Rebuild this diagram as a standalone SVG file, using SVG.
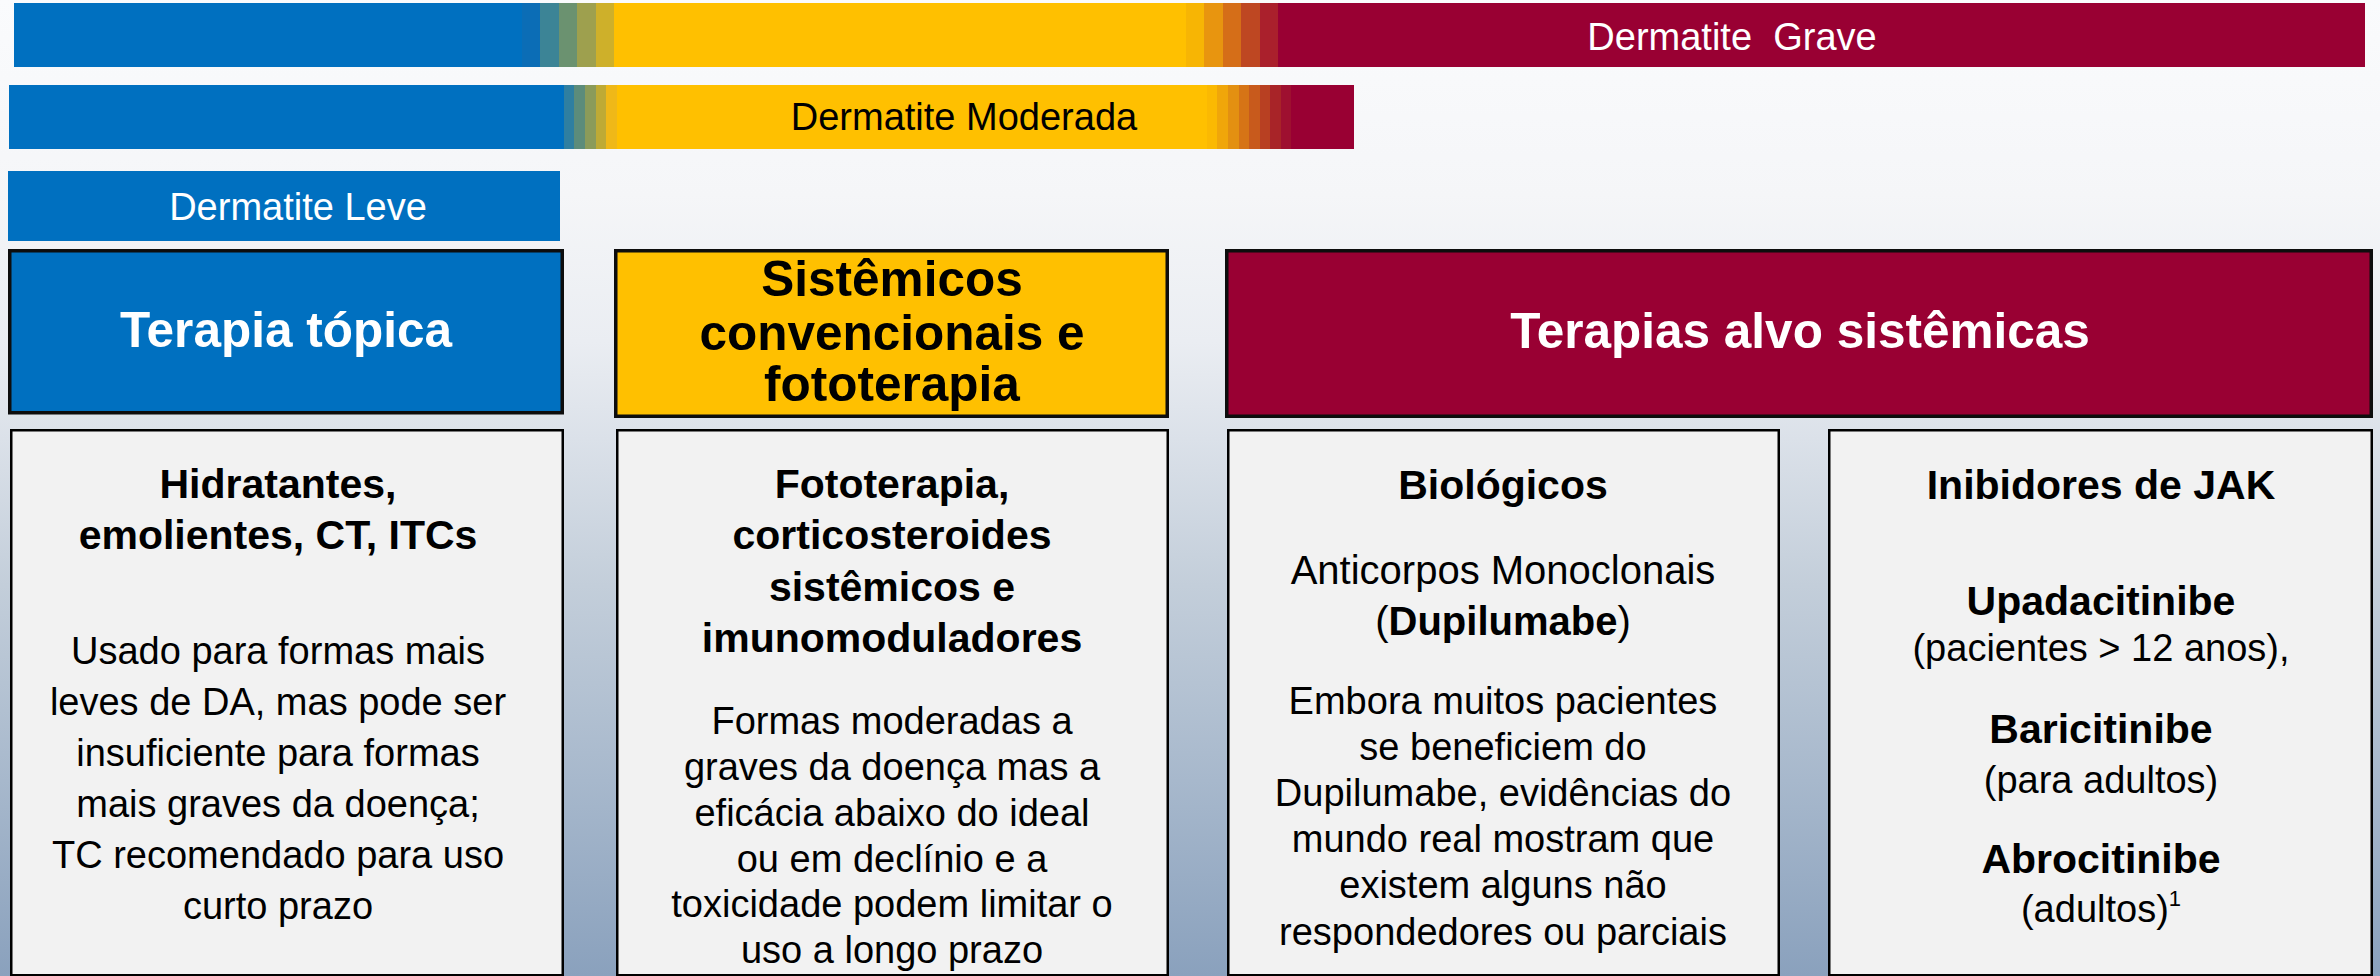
<svg xmlns="http://www.w3.org/2000/svg" width="2380" height="976" viewBox="0 0 2380 976">
<defs>
<linearGradient id="bg" x1="0" y1="0" x2="0" y2="1">
<stop offset="0" stop-color="#FAFBFD"/>
<stop offset="0.2" stop-color="#F5F6F8"/>
<stop offset="0.35" stop-color="#EAEDF2"/>
<stop offset="0.45" stop-color="#DBE1E9"/>
<stop offset="0.6" stop-color="#C3CEDA"/>
<stop offset="0.8" stop-color="#A7B8CC"/>
<stop offset="1" stop-color="#8AA1BD"/>
</linearGradient>
<style>
.lbl{font-family:"Liberation Sans",Arial,sans-serif;font-size:38px;text-anchor:middle}
.hd{font-family:"Liberation Sans",Arial,sans-serif;font-size:49.5px;font-weight:bold;text-anchor:middle}
.ttl{font-family:"Liberation Sans",Arial,sans-serif;font-size:41px;font-weight:bold;text-anchor:middle;fill:#000}
.bd{font-family:"Liberation Sans",Arial,sans-serif;font-size:38px;text-anchor:middle;fill:#000}
.b{font-weight:bold}
.hbox{stroke:#0D0D0D;stroke-width:3.5}
.cbox{fill:#F2F2F2;stroke:#000;stroke-width:2.5}
.s rect{shape-rendering:crispEdges}
</style>
</defs>
<rect x="0" y="0" width="2380" height="976" fill="url(#bg)"/>

<g id="bar-grave" class="s">
<rect x="14" y="3" width="508" height="64" fill="#0070C0"/>
<rect x="522" y="3" width="18" height="64" fill="#0B6DB6"/>
<rect x="540" y="3" width="19" height="64" fill="#3C8496"/>
<rect x="559" y="3" width="18" height="64" fill="#6B9270"/>
<rect x="577" y="3" width="19" height="64" fill="#9EA04E"/>
<rect x="596" y="3" width="18" height="64" fill="#CEB02A"/>
<rect x="614" y="3" width="572" height="64" fill="#FFC000"/>
<rect x="1186" y="3" width="18" height="64" fill="#F7B504"/>
<rect x="1204" y="3" width="19" height="64" fill="#E8950F"/>
<rect x="1223" y="3" width="18" height="64" fill="#D56E18"/>
<rect x="1241" y="3" width="19" height="64" fill="#BE4722"/>
<rect x="1260" y="3" width="18" height="64" fill="#AA202C"/>
<rect x="1278" y="3" width="1087" height="64" fill="#990033"/>
<text class="lbl" x="1732" y="50" fill="#FFFFFF" xml:space="preserve">Dermatite  Grave</text>
</g>

<g id="bar-moderada" class="s">
<rect x="9" y="85" width="555" height="64" fill="#0070C0"/>
<rect x="564" y="85" width="10" height="64" fill="#2F7FA1"/>
<rect x="574" y="85" width="11" height="64" fill="#5C8C7B"/>
<rect x="585" y="85" width="11" height="64" fill="#8B9B5A"/>
<rect x="596" y="85" width="10" height="64" fill="#BEAA35"/>
<rect x="606" y="85" width="11" height="64" fill="#EFB818"/>
<rect x="617" y="85" width="590" height="64" fill="#FFC000"/>
<rect x="1207" y="85" width="10" height="64" fill="#FBB902"/>
<rect x="1217" y="85" width="11" height="64" fill="#F0A60A"/>
<rect x="1228" y="85" width="11" height="64" fill="#E39011"/>
<rect x="1239" y="85" width="10" height="64" fill="#D67416"/>
<rect x="1249" y="85" width="11" height="64" fill="#C85A1C"/>
<rect x="1260" y="85" width="10" height="64" fill="#B84022"/>
<rect x="1270" y="85" width="11" height="64" fill="#A82428"/>
<rect x="1281" y="85" width="10" height="64" fill="#9E1030"/>
<rect x="1291" y="85" width="63" height="64" fill="#990033"/>
<text class="lbl" x="964" y="130" fill="#000000">Dermatite Moderada</text>
</g>

<g id="bar-leve" class="s">
<rect x="8" y="171" width="552" height="70" fill="#0070C0"/>
<text class="lbl" x="298" y="220" fill="#FFFFFF">Dermatite Leve</text>
</g>

<g id="hdr-topica">
<rect class="hbox" x="9.75" y="250.75" width="552.5" height="162" fill="#0070C0"/>
<text class="hd" x="286" y="347" fill="#FFFFFF">Terapia tópica</text>
</g>

<g id="hdr-sistemicos">
<rect class="hbox" x="615.75" y="250.75" width="551.5" height="165.5" fill="#FFC000"/>
<text class="hd" fill="#000000"><tspan x="892" y="296">Sistêmicos</tspan><tspan x="892" y="350">convencionais e</tspan><tspan x="892" y="401">fototerapia</tspan></text>
</g>

<g id="hdr-alvo">
<rect class="hbox" x="1226.75" y="250.75" width="1144.5" height="165.5" fill="#990033"/>
<text class="hd" x="1800" y="348" fill="#FFFFFF">Terapias alvo sistêmicas</text>
</g>

<g id="box-hidratantes">
<rect class="cbox" x="11.25" y="430.25" width="551.5" height="545"/>
<text class="ttl"><tspan x="278" y="498">Hidratantes,</tspan><tspan x="278" y="549">emolientes, CT, ITCs</tspan></text>
<text class="bd"><tspan x="278" y="664">Usado para formas mais</tspan><tspan x="278" y="715">leves de DA, mas pode ser</tspan><tspan x="278" y="766">insuficiente para formas</tspan><tspan x="278" y="817">mais graves da doença;</tspan><tspan x="278" y="868">TC recomendado para uso</tspan><tspan x="278" y="919">curto prazo</tspan></text>
</g>

<g id="box-fototerapia">
<rect class="cbox" x="617.25" y="430.25" width="550.5" height="545"/>
<text class="ttl"><tspan x="892" y="498">Fototerapia,</tspan><tspan x="892" y="549">corticosteroides</tspan><tspan x="892" y="601">sistêmicos e</tspan><tspan x="892" y="652">imunomoduladores</tspan></text>
<text class="bd"><tspan x="892" y="734">Formas moderadas a</tspan><tspan x="892" y="780">graves da doença mas a</tspan><tspan x="892" y="826">eficácia abaixo do ideal</tspan><tspan x="892" y="872">ou em declínio e a</tspan><tspan x="892" y="917">toxicidade podem limitar o</tspan><tspan x="892" y="963">uso a longo prazo</tspan></text>
</g>

<g id="box-biologicos">
<rect class="cbox" x="1228.25" y="430.25" width="550.5" height="545"/>
<text class="ttl" x="1503" y="499">Biológicos</text>
<text class="bd" style="font-size:40px"><tspan x="1503" y="584">Anticorpos Monoclonais</tspan><tspan x="1503" y="635">(<tspan class="b">Dupilumabe</tspan>)</tspan></text>
<text class="bd"><tspan x="1503" y="714">Embora muitos pacientes</tspan><tspan x="1503" y="760">se beneficiem do</tspan><tspan x="1503" y="806">Dupilumabe, evidências do</tspan><tspan x="1503" y="852">mundo real mostram que</tspan><tspan x="1503" y="898">existem alguns não</tspan><tspan x="1503" y="945">respondedores ou parciais</tspan></text>
</g>

<g id="box-jak">
<rect class="cbox" x="1829.25" y="430.25" width="542.5" height="545"/>
<text class="ttl" x="2101" y="499">Inibidores de JAK</text>
<text class="ttl" x="2101" y="615">Upadacitinibe</text>
<text class="bd" x="2101" y="661">(pacientes &gt; 12 anos),</text>
<text class="ttl" x="2101" y="743">Baricitinibe</text>
<text class="bd" x="2101" y="793">(para adultos)</text>
<text class="ttl" x="2101" y="873">Abrocitinibe</text>
<text class="bd" x="2101" y="922">(adultos)<tspan font-size="22" dy="-16">1</tspan></text>
</g>
</svg>
